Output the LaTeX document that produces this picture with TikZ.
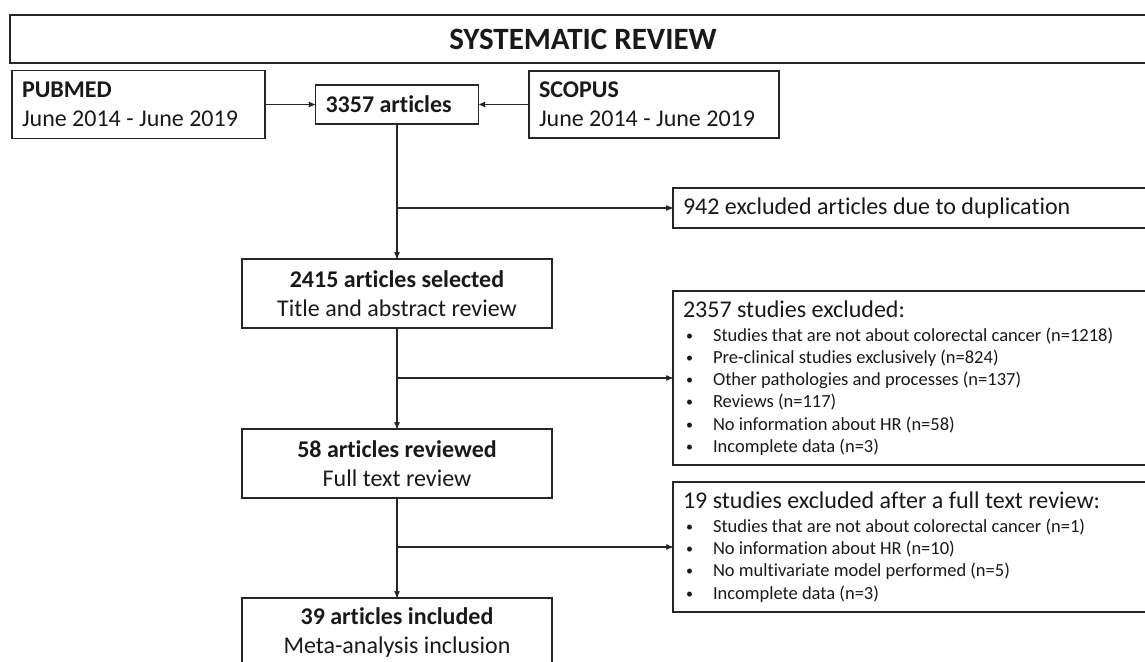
\documentclass[tikz,border=0pt]{standalone}
\usepackage{fontspec}
\setmainfont{Carlito}[Ligatures=NoCommon]
\usetikzlibrary{arrows, positioning}

\newcommand{\exbullet}{\hspace*{3pt}\makebox[27pt][l]{\raisebox{1pt}{\fontsize{14}{14}\selectfont\textbullet}}}
\newcommand{\exitem}[1]{\\\exbullet #1}
\newcommand{\exhead}[1]{{\fontsize{24}{29}\selectfont #1}\\[1.8pt]}

\begin{document}
\begin{tikzpicture}[->, >=stealth', auto, node distance =170pt and 258pt, on grid, line width=1.2pt, draw=black!85]
      \tikzstyle{every node}=[font=\fontsize{24}{29}\selectfont, text=black!90]
      \tikzstyle{mainbox}=[draw, line width=1.5pt, minimum width=310pt, minimum height=69pt, align=flush center, inner sep=0pt]
      \tikzstyle{srcbox}=[draw, line width=1.5pt, inner xsep=10pt, inner ysep=0pt, align=flush left]
      \tikzstyle{exbox}=[draw, line width=1.5pt, text width=457pt, inner xsep=10pt, inner ysep=0pt, align=flush left, font=\fontsize{18.5}{22.2}\selectfont]
      \useasboundingbox (0,0) rectangle (1145pt,-661pt);
      \clip (0,0) rectangle (1145pt,-661pt);
      \node[srcbox, text width=143pt, minimum height=39pt] (n3357) at (397pt,-104.5pt) {\textbf{3357 articles}};
      \node[srcbox, text width=233pt, minimum height=68pt] (pubmed) [left = 258.5pt of n3357] {\textbf{PUBMED}\\June 2014 - June 2019};
      \node[srcbox, text width=230pt, minimum height=67pt] (scopus) [right = 257pt of n3357] {\textbf{SCOPUS}\\June 2014 - June 2019};
      \node[draw, line width=1.5pt, minimum width=1146pt, minimum height=48pt, inner sep=0pt, font=\fontsize{31}{37}\selectfont\bfseries] (title) [above right = 65.5pt and 186pt of n3357] {SYSTEMATIC REVIEW};
      \node[mainbox] (n2415) [below = 189pt of n3357] {\textbf{2415 articles selected}\\Title and abstract review};
      \node[mainbox] (n58) [below = of n2415] {\textbf{58 articles reviewed}\\Full text review};
      \node[mainbox] (n39) [below = 169pt of n58] {\textbf{39 articles included}\\Meta-analysis inclusion};
      \node[exbox, minimum height=40pt, font=\fontsize{24}{29}\selectfont] (ex942) [below right = 103.5pt and 514.5pt of n3357] {942 excluded articles due to duplication};
      \node[exbox, minimum height=174pt] (ex2357) [below right = 84.5pt and 514.5pt of n2415] {\exhead{2357 studies excluded:}
        \exbullet Studies that are not about colorectal cancer (n=1218)
        \exitem{Pre-clinical studies exclusively (n=824)}
        \exitem{Other pathologies and processes (n=137)}
        \exitem{Reviews (n=117)}
        \exitem{No information about HR (n=58)}
        \exitem{Incomplete data (n=3)}};
      \node[exbox, minimum height=130pt] (ex19) [below right = 83.5pt and 514.5pt of n58] {\exhead{19 studies excluded after a full text review:}
        \exbullet Studies that are not about colorectal cancer (n=1)
        \exitem{No information about HR (n=10)}
        \exitem{No multivariate model performed (n=5)}
        \exitem{Incomplete data (n=3)}};
      \coordinate (b942) at (n3357.south |- ex942.west);
      \coordinate (b2357) at (n2415.south |- ex2357.west);
      \coordinate (b19) at (n58.south |- ex19.west);
      \path (pubmed) edge (n3357);
      \path (scopus) edge (n3357);
      \path (n3357) edge (n2415);
      \path (n2415) edge (n58);
      \path (n58) edge (n39);
      \path (b942) edge (ex942);
      \path (b2357) edge (ex2357);
      \path (b19) edge (ex19);
    \end{tikzpicture}
\end{document}
